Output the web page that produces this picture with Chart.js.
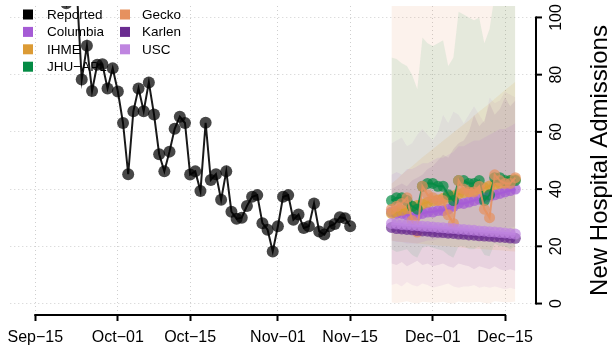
<!DOCTYPE html>
<html>
<head>
<meta charset="utf-8">
<script src="https://cdn.jsdelivr.net/npm/chart.js@4.4.0/dist/chart.umd.min.js"></script>
<style>
html, body { margin: 0; padding: 0; background: #ffffff; }
canvas { display: block; }
</style>
</head>
<body>
<canvas id="c" width="613" height="352"></canvas>
<script>
// ---------- DATA (day offsets are counted from Sep-15) ----------
const tickDays   = [0, 16, 30, 47, 61, 77, 91];
const tickLabels = ['Sep\u221215', 'Oct\u221201', 'Oct\u221215', 'Nov\u221201', 'Nov\u221215', 'Dec\u221201', 'Dec\u221215'];
const yTicks     = [0, 20, 40, 60, 80, 100];
const yTitle     = 'New Hospital Admissions';

const seriesNames  = ['Reported', 'Columbia', 'IHME', 'JHU\u2212APL', 'Gecko', 'Karlen', 'USC'];
const seriesColors = ['#000000', '#A55BD5', '#DC9B35', '#048B44', '#E6915F', '#6A2C90', '#BF85E0'];

// Reported daily admissions, Sep-19 (day 4) .. Nov-15 (day 61)
const reportedStartDay = 4;
const reported = [121, 113, 105, 117, 111, 78.3, 90.1, 74.3, 83.5, 83.6, 75.2, 82.2, 74.1, 63.1, 45.2,
  67.2, 75.2, 67.2, 77.3, 66.1, 52.2, 46.2, 53.1, 61.1, 65.3, 63.1, 45.1, 46.2, 39.3, 63.2,
  43.2, 45.2, 36.3, 46.2, 32.1, 29.6, 30.0, 34.1, 37.3, 37.9, 28.1, 25.8, 18.2, 27.0, 37.3,
  37.9, 29.3, 31.1, 26.4, 27.0, 35.0, 25.2, 24.1, 27.0, 27.8, 30.2, 29.8, 27.0];

// Forecasts, Nov-23 (day 69) .. Dec-17 (day 93)
const forecastStartDay = 69;
const columbia   = [32, 31.5, 31.5, 31, 31, 31, 31.5, 32, 32, 32.5, 32.5, 33, 34, 35, 35, 35.5, 36, 36.5, 37, 37.5, 38, 38.5, 39, 39.5, 40];
const columbiaLo = [22, 21.5, 21.5, 21, 21, 21, 21.5, 22, 22, 22.5, 22.5, 23, 23.5, 24, 24, 24.5, 24.5, 25, 25, 25.5, 26, 26, 26.5, 26.5, 27];
const columbiaHi = [45, 46, 45, 47, 47, 48, 49, 49, 50, 51, 51, 52, 53, 55, 55, 56, 57, 57, 58, 59, 60, 61, 61, 62, 63];

const ihme   = [31.5, 32.2, 32.6, 33.1, 33.9, 34.3, 34.8, 35.4, 35.9, 36.2, 36.8, 37.3, 37.7, 38.3, 38.8, 39.1, 39.6, 40.2, 40.5, 41.1, 41.6, 42.0, 42.5, 43.0, 43.4];
const ihmeLo = [22, 21.8, 21.5, 21.4, 21.2, 21.0, 20.8, 20.6, 20.5, 20.3, 20.1, 20.0, 19.8, 19.7, 19.5, 19.4, 19.2, 19.1, 19.0, 18.8, 18.7, 18.6, 18.5, 18.3, 18.2];
const ihmeHi = [42, 43.4, 45.1, 46.6, 48.0, 49.6, 51.1, 52.5, 54.0, 55.4, 56.9, 58.3, 59.8, 61.2, 62.6, 64.0, 65.6, 67.1, 68.5, 70.0, 71.6, 73.1, 74.6, 76.0, 77.5];

const jhu   = [36, 37, 37, 36, 34, 33, 41, 42, 42, 41, 41, 38, 36, 43, 43, 42, 42, 43, 36, 38, 44, 44, 43, 43, 43];
const jhuLo = [19, 18, 18.5, 19, 17, 16, 19.5, 20, 19.5, 19, 18.5, 17, 16, 20, 20, 19, 19, 20, 17, 16.5, 21, 20, 20, 19, 20];
const jhuHi = [86, 85.5, 84, 83, 80, 75, 93, 91, 90, 91, 92, 83, 86, 102, 101, 100, 99, 100, 91, 96, 108, 110, 112, 115, 118];

const gecko   = [33, 34, 35, 37, 29, 25, 41, 38, 37, 36, 36, 31, 28, 43, 40, 39, 39, 41, 33, 30, 45, 43, 42, 42, 44];
const geckoLo = [0.4, 0.2, 0.5, 0.8, 0.3, 0, 0.6, 0.5, 0.3, 0.4, 0.6, 0.2, 0, 0.7, 0.5, 0.4, 0.5, 0.6, 0.2, 0, 0.8, 0.6, 0.5, 0.5, 0.7];
const geckoHi = [120, 122, 125, 127, 118, 112, 130, 128, 127, 126, 128, 122, 118, 135, 133, 132, 134, 136, 128, 124, 140, 139, 138, 139, 142];

const karlen   = [26.6, 26.2, 26.1, 25.9, 25.8, 25.5, 25.4, 25.3, 25.0, 24.9, 24.8, 24.6, 24.5, 24.3, 24.2, 24.0, 23.9, 23.7, 23.6, 23.5, 23.3, 23.2, 23.1, 22.9, 22.8];
const karlenLo = [14, 13.5, 14.5, 13, 14, 15, 13.5, 14, 13, 13.5, 14, 13, 12.5, 14, 13.5, 13, 12, 13, 12.5, 12, 13, 12, 11.5, 12, 11.5];
const karlenHi = [40, 41, 42, 41, 43, 44, 45, 47, 48, 50, 52, 51, 54, 56, 57, 60, 66, 62, 64, 70, 66, 68, 72, 69, 71];

const usc   = [28, 27.8, 27.6, 27.5, 27.3, 27.2, 27.0, 26.9, 26.8, 26.6, 26.5, 26.3, 26.2, 26.0, 25.9, 25.7, 25.6, 25.4, 25.3, 25.1, 25.0, 24.8, 24.7, 24.5, 24.3];
const uscLo = [6.5, 7, 6, 7.5, 6.5, 6, 7, 6.5, 5.5, 6, 6.5, 7, 6, 5.5, 6, 6, 6.5, 5.5, 6, 5.5, 6, 5.5, 5, 5.5, 5];
const uscHi = [56, 57, 58, 55, 56, 59, 61, 59, 57, 60, 66, 63, 67, 66, 63, 66, 69, 66, 63, 72, 70, 71, 74, 73, 72];

// ---------- BUILD ----------
const FONT = '"Liberation Sans", Arial, Helvetica, sans-serif';

function pts(startDay, arr) { return arr.map((v, i) => ({ x: startDay + i, y: v })); }
function rgba(hex, a) {
  const n = parseInt(hex.slice(1), 16);
  return `rgba(${(n >> 16) & 255},${(n >> 8) & 255},${n & 255},${a})`;
}

const models = [
  { name: seriesNames[1], color: seriesColors[1], mid: columbia, lo: columbiaLo, hi: columbiaHi, a: 0.11 },
  { name: seriesNames[2], color: seriesColors[2], mid: ihme,     lo: ihmeLo,     hi: ihmeHi,     a: 0.12 },
  { name: seriesNames[3], color: seriesColors[3], mid: jhu,      lo: jhuLo,      hi: jhuHi,      a: 0.09 },
  { name: seriesNames[4], color: seriesColors[4], mid: gecko,    lo: geckoLo,    hi: geckoHi,    a: 0.12 },
  { name: seriesNames[5], color: seriesColors[5], mid: karlen,   lo: karlenLo,   hi: karlenHi,   a: 0.11 },
  { name: seriesNames[6], color: seriesColors[6], mid: usc,      lo: uscLo,      hi: uscHi,      a: 0.12 }
];

const datasets = [];
// interval bands (drawn first)
models.forEach((m, k) => {
  datasets.push({
    label: m.name + ' upper', data: pts(forecastStartDay, m.hi),
    borderWidth: 0, borderColor: 'rgba(0,0,0,0)', pointRadius: 0,
    backgroundColor: rgba(m.color, m.a), fill: '+1', order: 100 + k
  });
  datasets.push({
    label: m.name + ' lower', data: pts(forecastStartDay, m.lo),
    borderWidth: 0, borderColor: 'rgba(0,0,0,0)', pointRadius: 0,
    fill: false, order: 100 + k
  });
});
// forecast medians
models.forEach((m, k) => {
  datasets.push({
    label: m.name, data: pts(forecastStartDay, m.mid),
    borderColor: rgba(m.color, 0.85), borderWidth: 2,
    pointRadius: 5.5, pointBorderWidth: 0,
    pointBackgroundColor: rgba(m.color, 0.7),
    fill: false, order: 20 - k
  });
});
// reported
datasets.push({
  label: seriesNames[0], data: pts(reportedStartDay, reported),
  borderColor: 'rgba(0,0,0,0.9)', borderWidth: 2,
  pointRadius: 6, pointBorderWidth: 0,
  pointBackgroundColor: 'rgba(0,0,0,0.72)',
  fill: false, order: 0
});

const legendAndAxes = {
  id: 'legendAndAxes',
  beforeDatasetsDraw(chart) {
    const { ctx } = chart;
    ctx.save();
    ctx.font = `13.5px ${FONT}`;
    ctx.textBaseline = 'middle';
    ctx.textAlign = 'left';
    seriesNames.forEach((name, i) => {
      const col = Math.floor(i / 4), row = i % 4;
      const bx = col === 0 ? 23 : 120;
      const tx = col === 0 ? 47 : 142;
      const cy = 14.5 + row * 17.4;
      ctx.fillStyle = seriesColors[i];
      ctx.fillRect(bx, cy - 5, 10, 10);
      ctx.fillStyle = '#000';
      ctx.fillText(name, tx, cy + 0.5);
    });
    ctx.restore();
  },
  afterDraw(chart) {
    const { ctx, chartArea } = chart;
    const xs = chart.scales.x, ys = chart.scales.y;
    ctx.save();
    ctx.strokeStyle = '#000';
    ctx.lineWidth = 2;
    // bottom axis line (first to last tick, R style)
    const x0 = xs.getPixelForValue(tickDays[0]);
    const x1 = xs.getPixelForValue(tickDays[tickDays.length - 1]);
    ctx.beginPath();
    ctx.moveTo(x0 - 1, chartArea.bottom);
    ctx.lineTo(x1 + 1, chartArea.bottom);
    ctx.stroke();
    // right axis
    const ax = chartArea.right;
    const yb = ys.getPixelForValue(yTicks[0]);
    const yt = ys.getPixelForValue(yTicks[yTicks.length - 1]);
    ctx.beginPath();
    ctx.moveTo(ax, yb + 1);
    ctx.lineTo(ax, yt - 1);
    ctx.stroke();
    yTicks.forEach(v => {
      const py = ys.getPixelForValue(v);
      ctx.beginPath();
      ctx.moveTo(ax, py);
      ctx.lineTo(ax + 6, py);
      ctx.stroke();
    });
    ctx.fillStyle = '#000';
    ctx.textAlign = 'center';
    ctx.textBaseline = 'alphabetic';
    ctx.font = `16px ${FONT}`;
    yTicks.forEach(v => {
      const py = ys.getPixelForValue(v);
      ctx.save();
      ctx.translate(ax + 25, py);
      ctx.rotate(-Math.PI / 2);
      ctx.fillText(String(v), 0, 0);
      ctx.restore();
    });
    ctx.font = `24px ${FONT}`;
    ctx.save();
    ctx.translate(607, (chartArea.top + chartArea.bottom) / 2);
    ctx.rotate(-Math.PI / 2);
    ctx.fillText(yTitle, 0, 0);
    ctx.restore();
    ctx.restore();
  }
};

new Chart(document.getElementById('c'), {
  type: 'line',
  data: { datasets },
  options: {
    responsive: false,
    animation: false,
    devicePixelRatio: 1,
    layout: { padding: { left: 10, top: 1, right: 0, bottom: 0 } },
    plugins: { legend: { display: false }, tooltip: { enabled: false } },
    elements: { line: { tension: 0 } },
    scales: {
      x: {
        type: 'linear', position: 'bottom',
        min: -4.84, max: 97.0,
        afterBuildTicks: s => { s.ticks = tickDays.map(v => ({ value: v })); },
        afterFit: s => { s.height = 37; },
        ticks: {
          autoSkip: false, maxRotation: 0, minRotation: 0, padding: 7,
          color: '#000', font: { family: FONT, size: 16 },
          callback: (v) => tickLabels[tickDays.indexOf(v)]
        },
        grid: {
          color: '#cfcfcf', lineWidth: 1, drawTicks: true, tickLength: 6,
          tickColor: '#000', tickWidth: 2, tickBorderDash: []
        },
        border: { display: false, dash: [1, 3] }
      },
      y: {
        type: 'linear', position: 'right',
        min: -4, max: 104,
        afterBuildTicks: s => { s.ticks = yTicks.map(v => ({ value: v })); },
        afterFit: s => { s.width = 77; },
        ticks: { display: false },
        grid: { color: '#cfcfcf', lineWidth: 1, drawTicks: false },
        border: { display: false, dash: [1, 3] }
      }
    }
  },
  plugins: [legendAndAxes]
});
</script>
</body>
</html>
